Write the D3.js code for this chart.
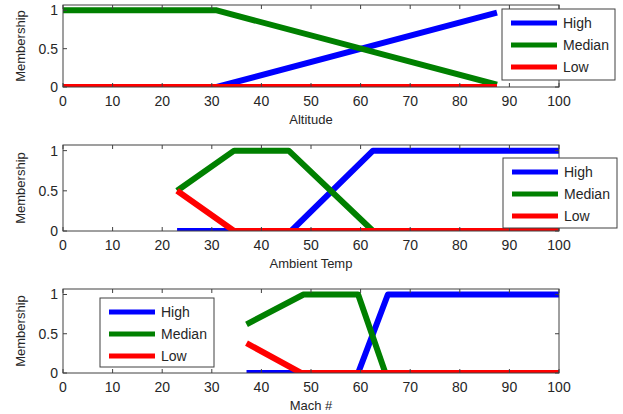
<!DOCTYPE html>
<html><head><meta charset="utf-8">
<script src="https://cdn.jsdelivr.net/npm/d3@7"></script>
<style>body{margin:0;background:#fff}svg{display:block}text{font-family:"Liberation Sans",Arial,sans-serif}</style>
</head><body><svg id="c" width="623" height="414"></svg>
<script>
const xTicks = [0,10,20,30,40,50,60,70,80,90,100];
const yTicks = [0,0.5,1];
const seriesNames = ["High","Median","Low"];
const seriesColors = ["#0000ff","#008000","#ff0000"];

const altHighX = [0,31,87.5], altHighY = [0,0,0.97];
const altMedianX = [0,31,87.5], altMedianY = [1,1,0.03];
const altLowX = [0,87.5], altLowY = [0,0];

const tempHighX = [23,46,62.5,100], tempHighY = [0,0,1,1];
const tempMedianX = [23,34.5,45.5,62.5,100], tempMedianY = [0.5,1,1,0,0];
const tempLowX = [23,34.5,100], tempLowY = [0.5,0,0];

const machHighX = [37,59.5,65.5,100], machHighY = [0,0,1,1];
const machMedianX = [37,48.5,59.5,65,100], machMedianY = [0.62,1,1,0,0];
const machLowX = [37,48,100], machLowY = [0.38,0,0];

const panels = [
  {label:"Altitude", top:5, bottom:87, series:[[altHighX,altHighY],[altMedianX,altMedianY],[altLowX,altLowY]],
   legend:{x:502,y:9,w:113,h:71}},
  {label:"Ambient Temp", top:145, bottom:231, series:[[tempHighX,tempHighY],[tempMedianX,tempMedianY],[tempLowX,tempLowY]],
   legend:{x:503,y:158,w:114,h:70}},
  {label:"Mach #", top:289, bottom:373, series:[[machHighX,machHighY],[machMedianX,machMedianY],[machLowX,machLowY]],
   legend:{x:100,y:298,w:114,h:69}}
];

const svg = d3.select("#c");
const defs = svg.append("defs");
const left = 63, right = 559;
const axisColor = "#404040", textColor = "#262626";

panels.forEach((p, pi) => {
  const x = d3.scaleLinear().domain([0,100]).range([left,right]);
  const y = d3.scaleLinear().domain([0,1]).range([p.bottom, p.bottom - (p.bottom - p.top)/1.07]);
  const g = svg.append("g");
  defs.append("clipPath").attr("id","clip"+pi).append("rect")
    .attr("x",left).attr("y",p.top).attr("width",right-left).attr("height",p.bottom-p.top);
  g.append("rect").attr("x",left).attr("y",p.top).attr("width",right-left).attr("height",p.bottom-p.top)
    .attr("fill","#fff");
  const lg = g.append("g").attr("clip-path",`url(#clip${pi})`);
  const line = d3.line().x(d=>x(d[0])).y(d=>y(d[1]));
  p.series.forEach((s,i) => {
    const pts = s[0].map((v,k)=>[v,s[1][k]]);
    lg.append("path").attr("d",line(pts)).attr("fill","none").attr("stroke",seriesColors[i])
      .attr("stroke-width",6).attr("stroke-linejoin","round");
  });
  g.append("rect").attr("x",left).attr("y",p.top).attr("width",right-left).attr("height",p.bottom-p.top)
    .attr("fill","none").attr("stroke",axisColor).attr("stroke-width",1);
  xTicks.forEach(t => {
    g.append("line").attr("x1",x(t)).attr("x2",x(t)).attr("y1",p.bottom).attr("y2",p.bottom-4).attr("stroke",axisColor);
    g.append("line").attr("x1",x(t)).attr("x2",x(t)).attr("y1",p.top).attr("y2",p.top+4).attr("stroke",axisColor);
    g.append("text").attr("x",x(t)).attr("y",p.bottom+19).attr("text-anchor","middle")
      .attr("font-size",14).attr("fill",textColor).text(t);
  });
  yTicks.forEach(t => {
    g.append("line").attr("x1",left).attr("x2",left+4).attr("y1",y(t)).attr("y2",y(t)).attr("stroke",axisColor);
    g.append("line").attr("x1",right).attr("x2",right-4).attr("y1",y(t)).attr("y2",y(t)).attr("stroke",axisColor);
    g.append("text").attr("x",left-5).attr("y",y(t)+5).attr("text-anchor","end")
      .attr("font-size",14).attr("fill",textColor).text(t);
  });
  g.append("text").attr("x",(left+right)/2).attr("y",p.bottom+37).attr("text-anchor","middle")
    .attr("font-size",13).attr("fill",textColor).text(p.label);
  const cy = (p.top+p.bottom)/2;
  g.append("text").attr("transform",`translate(25,${cy}) rotate(-90)`).attr("text-anchor","middle")
    .attr("font-size",13).attr("fill",textColor).text("Membership");
  const L = p.legend;
  g.append("rect").attr("x",L.x).attr("y",L.y).attr("width",L.w).attr("height",L.h)
    .attr("fill","#fff").attr("stroke",axisColor).attr("stroke-width",1);
  seriesNames.forEach((n,i) => {
    const ry = L.y + 14 + i*22;
    g.append("line").attr("x1",L.x+9).attr("x2",L.x+55).attr("y1",ry).attr("y2",ry)
      .attr("stroke",seriesColors[i]).attr("stroke-width",5);
    g.append("text").attr("x",L.x+61).attr("y",ry+5).attr("font-size",14).attr("fill",textColor).text(n);
  });
});
</script></body></html>
